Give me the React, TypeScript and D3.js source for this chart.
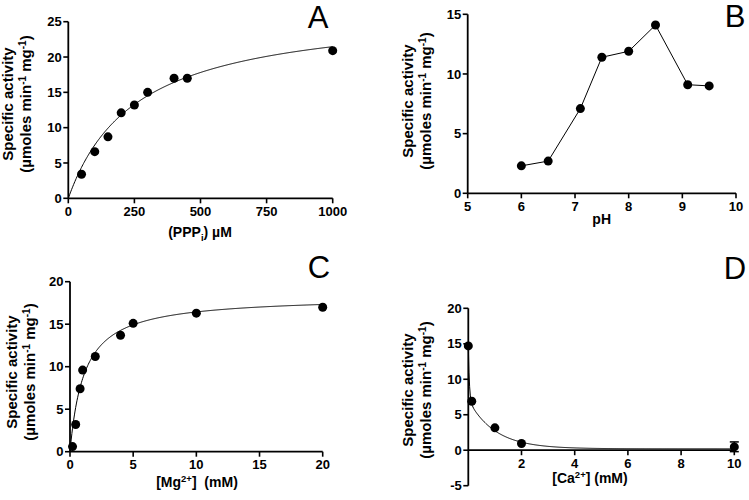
import React from "react";
import * as d3 from "d3";

// Panel A: PPPi concentration (µM) vs specific activity
const aX = [50, 100, 150, 200, 250, 300, 400, 450, 1000];
const aY = [3.4, 6.6, 8.7, 12.1, 13.2, 15.0, 17.0, 17.0, 20.9];
const aVmax = 27.0;
const aKm = 258;

// Panel B: pH profile
const bX = [6, 6.5, 7.1, 7.5, 8, 8.5, 9.1, 9.5];
const bY = [2.3, 2.7, 7.1, 11.4, 11.9, 14.1, 9.1, 9.0];

// Panel C: Mg2+ (mM)
const cX = [0.2, 0.45, 0.8, 1, 2, 4, 5, 10, 20];
const cY = [0.6, 3.2, 7.4, 9.6, 11.2, 13.7, 15.1, 16.3, 17.0];
const cVmax = 18.3;
const cKm = 1.13;

// Panel D: Ca2+ (mM)
const dX = [0, 0.13, 1, 2, 10];
const dY = [14.7, 6.9, 3.15, 0.94, 0.47];
const dErrLo = [0, 0, 0, 0, -0.2];
const dErrHi = [0, 0, 0, 0, 1.17];
const dPlateau = 0.2;
const dFastA = 7.6;
const dFastK = 25;
const dSlowA = 6.9;
const dSlowK = 1.0;

const ticksA_x = [0, 250, 500, 750, 1000];
const ticksA_y = [0, 5, 10, 15, 20, 25];
const ticksB_x = [5, 6, 7, 8, 9, 10];
const ticksB_y = [0, 5, 10, 15];
const ticksC_x = [0, 5, 10, 15, 20];
const ticksC_y = [0, 5, 10, 15, 20];
const ticksD_x = [2, 4, 6, 8, 10];
const ticksD_y = [-5, 0, 5, 10, 15, 20];

const FONT = "'Liberation Sans', Arial, Helvetica, sans-serif";
const TS = 13;

type PanelProps = {
  xr: [number, number];
  yr: [number, number];
  xd: [number, number];
  yd: [number, number];
  xt: number[];
  yt: number[];
  xs: number[];
  ys: number[];
  curve?: (x: number) => number;
  connect?: boolean;
  errLo?: number[];
  errHi?: number[];
  xAxisAt?: number;
  letter: string;
  letterPos: [number, number];
  yTitleX: [number, number];
  yTitleY: number;
  xTitle: React.ReactNode;
  xTitlePos: [number, number];
};

function YTitle({ x1, x2, cy }: { x1: number; x2: number; cy: number }) {
  return (
    <g fontFamily={FONT} fontWeight="bold" fontSize={15} textAnchor="middle">
      <text transform={`translate(${x1},${cy}) rotate(-90)`}>Specific activity</text>
      <text transform={`translate(${x2},${cy}) rotate(-90)`}>
        (µmoles min
        <tspan dy={-5.5} fontSize={10}>-1</tspan>
        <tspan dy={5.5}> mg</tspan>
        <tspan dy={-5.5} fontSize={10}>-1</tspan>
        <tspan dy={5.5}>)</tspan>
      </text>
    </g>
  );
}

function Panel(p: PanelProps) {
  const x = d3.scaleLinear().domain(p.xd).range(p.xr);
  const y = d3.scaleLinear().domain(p.yd).range(p.yr);
  const xAxisY = p.xAxisAt !== undefined ? y(p.xAxisAt) : p.yr[0];
  const tick = 5;
  let curvePath: string | null = null;
  if (p.curve) {
    const n = 400;
    const pts: [number, number][] = d3.range(n + 1).map((i) => {
      const xv = p.xd[0] + ((p.xd[1] - p.xd[0]) * i) / n;
      return [xv, p.curve!(xv)];
    });
    curvePath = d3.line<[number, number]>().x((d) => x(d[0])).y((d) => y(d[1]))(pts);
  }
  let linePath: string | null = null;
  if (p.connect) {
    linePath = d3
      .line<number>()
      .x((_, i) => x(p.xs[i]))
      .y((_, i) => y(p.ys[i]))(p.xs);
  }
  return (
    <g>
      {curvePath && <path d={curvePath} fill="none" stroke="#000" strokeWidth={1} />}
      {linePath && <path d={linePath} fill="none" stroke="#000" strokeWidth={1} />}
      <line x1={p.xr[0]} x2={p.xr[0]} y1={p.yr[0]} y2={p.yr[1]} stroke="#000" strokeWidth={1.8} />
      <line x1={p.xr[0]} x2={p.xr[1]} y1={xAxisY} y2={xAxisY} stroke="#000" strokeWidth={1.8} />
      {p.yt.map((t) => (
        <g key={"y" + t}>
          <line x1={p.xr[0] - tick} x2={p.xr[0]} y1={y(t)} y2={y(t)} stroke="#000" strokeWidth={1.6} />
          <text
            x={p.xr[0] - tick - 1.5}
            y={y(t)}
            dy="0.36em"
            textAnchor="end"
            fontFamily={FONT}
            fontWeight="bold"
            fontSize={TS}
          >
            {t}
          </text>
        </g>
      ))}
      {p.xt.map((t) => (
        <g key={"x" + t}>
          <line x1={x(t)} x2={x(t)} y1={xAxisY} y2={xAxisY + tick} stroke="#000" strokeWidth={1.6} />
          <text
            x={x(t)}
            y={xAxisY + 17.5}
            textAnchor="middle"
            fontFamily={FONT}
            fontWeight="bold"
            fontSize={TS}
          >
            {t}
          </text>
        </g>
      ))}
      {p.errHi &&
        p.xs.map((xv, i) =>
          p.errHi![i] !== 0 ? (
            <g key={"e" + i} stroke="#000" strokeWidth={1.5}>
              <line x1={x(xv)} x2={x(xv)} y1={y(p.errLo![i])} y2={y(p.errHi![i])} />
              <line x1={x(xv) - 4.5} x2={x(xv) + 4.5} y1={y(p.errHi![i])} y2={y(p.errHi![i])} />
              <line x1={x(xv) - 4.5} x2={x(xv) + 4.5} y1={y(p.errLo![i])} y2={y(p.errLo![i])} />
            </g>
          ) : null
        )}
      {p.xs.map((xv, i) => (
        <circle key={"c" + i} cx={x(xv)} cy={y(p.ys[i])} r={4.5} fill="#000" />
      ))}
      <text
        x={p.letterPos[0]}
        y={p.letterPos[1]}
        fontFamily={FONT}
        fontSize={31}
        textAnchor="middle"
      >
        {p.letter}
      </text>
      <YTitle x1={p.yTitleX[0]} x2={p.yTitleX[1]} cy={p.yTitleY} />
      <text
        x={p.xTitlePos[0]}
        y={p.xTitlePos[1]}
        textAnchor="middle"
        fontFamily={FONT}
        fontWeight="bold"
        fontSize={14}
        style={{ whiteSpace: "pre" }}
      >
        {p.xTitle}
      </text>
    </g>
  );
}

export default function App() {
  return (
    <div style={{ position: "absolute", left: 0, top: 0 }}>
      <svg width={749} height={500} style={{ display: "block", background: "#fff" }}>
        <Panel
          xr={[68.3, 332.7]}
          yr={[198.3, 21.7]}
          xd={[0, 1000]}
          yd={[0, 25]}
          xt={ticksA_x}
          yt={ticksA_y}
          xs={aX}
          ys={aY}
          curve={(v) => (aVmax * v) / (aKm + v)}
          letter="A"
          letterPos={[318, 28]}
          yTitleX={[13, 31]}
          yTitleY={104}
          xTitle={
            <>
              (PPP<tspan dy={4} fontSize={9.5}>i</tspan>
              <tspan dy={-4}>) µM</tspan>
            </>
          }
          xTitlePos={[200, 237]}
        />
        <Panel
          xr={[467.7, 736]}
          yr={[193.3, 14.3]}
          xd={[5, 10]}
          yd={[0, 15]}
          xt={ticksB_x}
          yt={ticksB_y}
          xs={bX}
          ys={bY}
          connect
          letter="B"
          letterPos={[735, 27]}
          yTitleX={[413, 431]}
          yTitleY={101}
          xTitle="pH"
          xTitlePos={[601.7, 224]}
        />
        <Panel
          xr={[70, 322.7]}
          yr={[451.7, 281.7]}
          xd={[0, 20]}
          yd={[0, 20]}
          xt={ticksC_x}
          yt={ticksC_y}
          xs={cX}
          ys={cY}
          curve={(v) => (cVmax * v) / (cKm + v)}
          letter="C"
          letterPos={[319, 278]}
          yTitleX={[17, 35]}
          yTitleY={372}
          xTitle={
            <>
              [Mg<tspan dy={-5} fontSize={9.5}>2+</tspan>
              <tspan dy={5}>]  (mM)</tspan>
            </>
          }
          xTitlePos={[197, 487]}
        />
        <Panel
          xr={[468.3, 734.3]}
          yr={[485.7, 308.3]}
          xd={[0, 10]}
          yd={[-5, 20]}
          xt={ticksD_x}
          yt={ticksD_y}
          xs={dX}
          ys={dY}
          errLo={dErrLo}
          errHi={dErrHi}
          xAxisAt={0}
          curve={(v) => dPlateau + dFastA * Math.exp(-dFastK * v) + dSlowA * Math.exp(-dSlowK * v)}
          letter="D"
          letterPos={[735, 279]}
          yTitleX={[413, 431]}
          yTitleY={390}
          xTitle={
            <>
              [Ca<tspan dy={-5} fontSize={9.5}>2+</tspan>
              <tspan dy={5}>] (mM)</tspan>
            </>
          }
          xTitlePos={[590, 483]}
        />
      </svg>
    </div>
  );
}
